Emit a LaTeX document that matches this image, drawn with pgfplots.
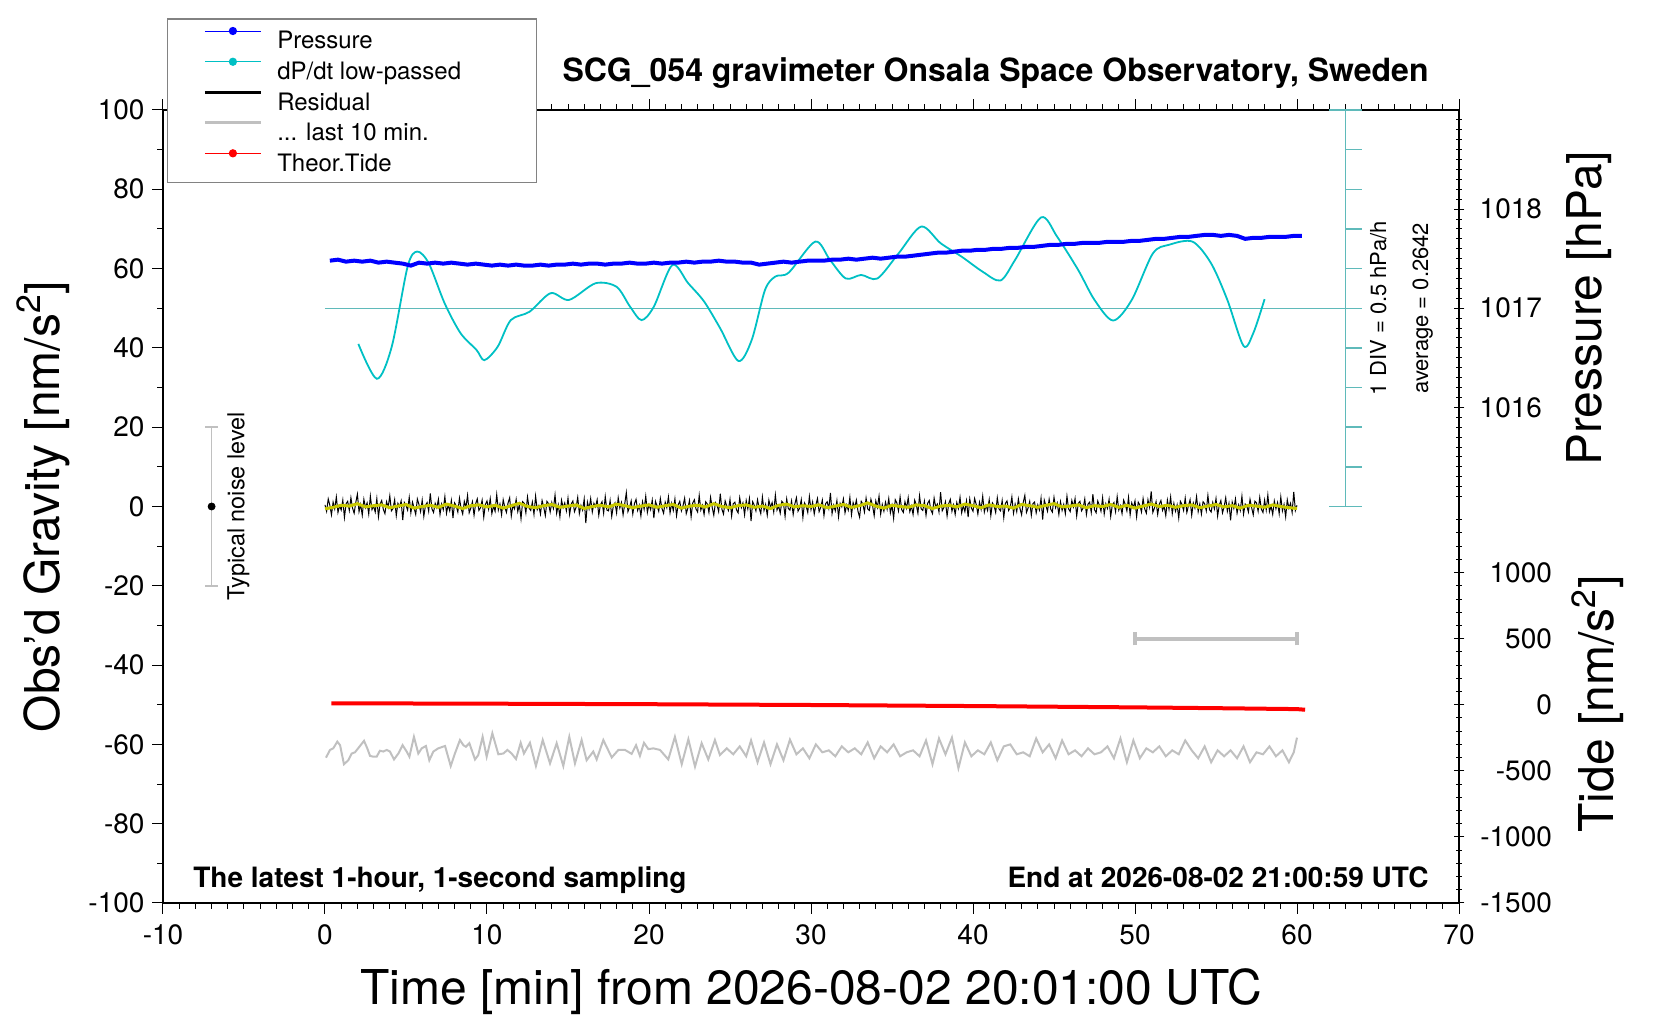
\documentclass[border=0pt]{standalone}
\usepackage{pgfplots}
\pgfplotsset{compat=1.18}
\usepackage{pgfplotstable}
\usepackage{fontspec}
\setmainfont{TeX Gyre Heros}
\definecolor{cyanc}{RGB}{0,192,196}
\definecolor{cyans}{RGB}{95,186,186}
\definecolor{yel}{RGB}{200,200,0}
\definecolor{lgray}{RGB}{192,192,192}
\definecolor{leggray}{RGB}{130,130,130}

\pgfplotsset{
  common/.style={width=648pt, height=396.5pt, scale only axis, xmin=-10, xmax=70,
    tick align=outside, major tick length=5.3pt, minor tick length=2.8pt,
    every tick/.style={black, line width=0.5pt},
    axis line style={line width=0.9pt},
    tick label style={font=\fontsize{14}{16}\selectfont},
    /pgf/number format/assume math mode=true,
    /pgf/number format/1000 sep={},
  },
  legdot/.style={legend image code/.code={\path (-18.5pt,0pt) (35.9pt,0pt);
      \draw[##1,line width=0.5pt] (0pt,4.3pt) -- (28pt,4.3pt);
      \fill[##1] (14pt,4.3pt) circle[radius=1.75pt];}},
  legline/.style={legend image code/.code={\path (-18.5pt,0pt) (35.9pt,0pt);
      \draw[##1, line width=#1] (0pt,4.3pt) -- (28pt,4.3pt);}},
}

\pgfplotstableread[header=false,row sep=\\]{
0.4\\ -1.2\\ 1.9\\ 0.3\\ -2.1\\ 1.1\\ -0.6\\ 2.4\\ -1.5\\ 0.2\\
-0.9\\ 1.6\\ -2.8\\ 0.7\\ 1.3\\ -1.0\\ 2.2\\ -0.4\\ -1.7\\ 1.0\\
3.1\\ -1.3\\ 0.5\\ -2.2\\ 1.8\\ -0.3\\ 0.9\\ -1.9\\ 2.6\\ -0.8\\
0.1\\ -1.4\\ 2.0\\ -2.6\\ 0.6\\ 1.5\\ -0.7\\ -1.8\\ 1.2\\ -0.2\\
2.7\\ -1.1\\ -0.5\\ 1.7\\ -2.3\\ 0.8\\ -0.1\\ 1.4\\ -3.4\\ 1.0\\
0.3\\ -0.9\\ 2.3\\ -1.6\\ 1.1\\ -0.4\\ -2.0\\ 1.9\\ 0.5\\ -1.3\\
1.6\\ -2.5\\ 0.2\\ 1.0\\ -1.2\\ 3.3\\ -0.6\\ -1.5\\ 0.8\\ -0.3\\
1.8\\ -2.0\\ 0.6\\ -0.8\\ 2.5\\ -1.7\\ 0.4\\ -1.1\\ 1.5\\ -2.9\\
0.9\\ 0.2\\ -1.4\\ 2.1\\ -0.5\\ -1.9\\ 1.3\\ -0.2\\ 2.8\\ -1.6\\
-0.4\\ 1.2\\ -2.2\\ 0.7\\ 1.9\\ -1.0\\ -0.3\\ 1.6\\ -2.7\\ 0.5\\
1.4\\ -0.7\\ 2.0\\ -1.8\\ 0.1\\ -1.2\\ 3.0\\ -0.9\\ 0.6\\ -2.1\\
1.7\\ -0.2\\ -1.5\\ 0.9\\ 2.2\\ -2.4\\ 0.3\\ -0.6\\ 1.8\\ -1.3\\
0.5\\ -3.1\\ 1.2\\ 0.8\\ -1.6\\ 2.4\\ -0.4\\ -1.0\\ 1.1\\ -2.0\\
2.6\\ -0.8\\ 0.2\\ -1.9\\ 1.5\\ -0.1\\ -2.3\\ 1.3\\ 0.7\\ -1.4\\
1.0\\ -0.5\\ 2.9\\ -1.7\\ 0.4\\ -2.6\\ 1.6\\ -0.3\\ 0.9\\ -1.1\\
2.1\\ -2.0\\ 0.6\\ 1.4\\ -1.3\\ -0.2\\ 2.3\\ -1.8\\ 0.3\\ -0.9\\
1.9\\ -4.2\\ 1.1\\ -0.6\\ 2.0\\ -1.4\\ 0.8\\ -0.1\\ 1.7\\ -2.2\\
0.4\\ 1.2\\ -1.7\\ 2.5\\ -0.9\\ -1.1\\ 1.5\\ -2.5\\ 0.2\\ 0.9\\
-1.6\\ 2.2\\ -0.4\\ 1.0\\ -2.1\\ 0.6\\ 3.5\\ -1.3\\ -0.2\\ 1.4\\
-1.9\\ 0.7\\ 1.8\\ -1.0\\ 0.3\\ -2.4\\ 1.2\\ -0.7\\ 2.6\\ -1.5\\
0.5\\ -0.8\\ 1.6\\ -2.9\\ 1.3\\ 0.1\\ -1.2\\ 2.0\\ -0.5\\ -1.7\\
1.1\\ -0.3\\ 2.4\\ -1.6\\ 0.8\\ -1.0\\ 1.9\\ -2.3\\ 0.4\\ 1.3\\
-1.1\\ 0.2\\ 2.1\\ -1.8\\ -0.4\\ 1.5\\ -2.6\\ 0.9\\ 1.7\\ -0.6\\
-1.4\\ 2.8\\ -0.9\\ 0.3\\ -2.0\\ 1.2\\ 0.6\\ -1.5\\ 2.3\\ -0.2\\
-2.2\\ 1.0\\ 0.4\\ -1.3\\ 3.2\\ -0.7\\ -1.9\\ 1.4\\ 0.1\\ -1.0\\
1.8\\ -2.4\\ 0.7\\ 1.1\\ -0.8\\ -1.6\\ 2.2\\ -0.3\\ 0.9\\ -2.1\\
1.5\\ -0.6\\ 2.0\\ -3.7\\ 1.2\\ 0.3\\ -1.1\\ 1.7\\ -0.4\\ -1.8\\
2.4\\ -1.0\\ 0.5\\ -2.2\\ 1.6\\ -0.2\\ 1.0\\ -1.4\\ 2.9\\ -0.9\\
0.2\\ -1.7\\ 1.3\\ 0.8\\ -2.5\\ 1.9\\ -0.5\\ -0.9\\ 1.4\\ -2.0\\
0.6\\ 2.2\\ -1.2\\ -0.4\\ 1.7\\ -2.8\\ 0.9\\ 0.1\\ -1.5\\ 2.5\\
-0.8\\ 1.1\\ -1.9\\ 0.4\\ 2.0\\ -1.3\\ -0.2\\ 1.6\\ -2.3\\ 0.7\\
1.2\\ -0.5\\ 3.4\\ -1.8\\ 0.3\\ -1.1\\ 1.5\\ -2.6\\ 0.8\\ -0.1\\
1.9\\ -1.6\\ 0.4\\ -0.9\\ 2.3\\ -2.1\\ 1.0\\ -0.3\\ 1.6\\ -1.2\\
-2.7\\ 1.3\\ 0.6\\ -1.4\\ 2.1\\ -0.6\\ -1.0\\ 1.8\\ 0.2\\ -2.3\\
1.4\\ -0.2\\ 2.6\\ -1.9\\ 0.5\\ -1.2\\ 1.1\\ -0.7\\ 2.0\\ -1.6\\
0.3\\ -3.0\\ 1.7\\ 0.9\\ -1.1\\ 2.4\\ -0.8\\ -1.5\\ 1.2\\ -0.4\\
2.2\\ -1.3\\ 0.1\\ -2.0\\ 1.6\\ 0.4\\ -1.7\\ 2.7\\ -0.6\\ -1.0\\
1.3\\ -2.2\\ 0.8\\ 1.5\\ -0.9\\ -1.8\\ 2.1\\ -0.2\\ 0.6\\ -1.4\\
3.6\\ -1.1\\ -0.3\\ 1.2\\ -2.4\\ 0.7\\ 1.8\\ -1.2\\ 0.4\\ -2.0\\
1.0\\ -0.5\\ 2.3\\ -1.6\\ 0.2\\ -1.3\\ 1.4\\ -2.7\\ 1.9\\ -0.4\\
-1.2\\ 2.0\\ 0.5\\ -1.9\\ 1.1\\ -0.7\\ 2.6\\ -1.4\\ 0.3\\ -1.0\\
1.7\\ -2.3\\ 0.9\\ 0.2\\ -1.5\\ 2.2\\ -0.6\\ -1.1\\ 1.5\\ -2.8\\
0.8\\ 1.4\\ -1.0\\ -0.2\\ 2.4\\ -1.7\\ 0.6\\ -1.3\\ 1.9\\ -0.5\\
-2.1\\ 1.0\\ 2.8\\ -1.5\\ -0.4\\ 1.3\\ -2.2\\ 0.7\\ 1.1\\ -1.6\\
0.4\\ -0.9\\ 2.1\\ -3.3\\ 1.6\\ 0.2\\ -1.2\\ 1.8\\ -0.7\\ -1.4\\
2.3\\ -0.3\\ 0.9\\ -2.0\\ 1.2\\ -1.0\\ 0.5\\ -1.8\\ 2.6\\ -0.6\\
-1.3\\ 1.5\\ -0.1\\ 2.0\\ -2.4\\ 0.8\\ 1.3\\ -1.1\\ -0.4\\ 1.9\\
-2.0\\ 0.6\\ 1.1\\ -1.5\\ 3.1\\ -0.8\\ -1.6\\ 1.4\\ 0.3\\ -1.2\\
2.2\\ -1.9\\ 0.7\\ -0.5\\ 1.8\\ -2.5\\ 0.4\\ 1.0\\ -1.3\\ 2.5\\
-0.9\\ 0.2\\ -1.8\\ 1.6\\ 0.5\\ -1.1\\ 2.3\\ -2.1\\ 0.9\\ -0.3\\
1.4\\ -2.6\\ 1.1\\ 0.3\\ -1.4\\ 2.0\\ -0.6\\ -1.7\\ 1.7\\ -0.2\\
3.8\\ -1.5\\ -0.4\\ 1.2\\ -2.0\\ 0.6\\ 1.5\\ -1.0\\ 0.1\\ -2.3\\
1.6\\ -0.7\\ 2.4\\ -1.8\\ 0.8\\ -1.2\\ 0.4\\ -2.9\\ 1.3\\ 0.5\\
-1.0\\ 2.1\\ -1.5\\ 0.2\\ 1.7\\ -2.2\\ 0.9\\ -0.4\\ 2.5\\ -1.3\\
0.6\\ -1.9\\ 1.2\\ 0.7\\ -1.1\\ 2.8\\ -0.8\\ -1.4\\ 1.0\\ -0.6\\
2.0\\ -2.4\\ 0.3\\ 1.5\\ -1.6\\ -0.1\\ 2.2\\ -1.2\\ 0.8\\ -3.5\\
1.1\\ -0.5\\ 1.9\\ -1.7\\ 0.4\\ -1.0\\ 2.6\\ -1.9\\ 0.6\\ 0.2\\
-1.4\\ 1.8\\ -0.3\\ -2.1\\ 1.3\\ 0.9\\ -1.2\\ 2.3\\ -0.7\\ -1.5\\
1.6\\ -0.9\\ 2.9\\ -1.3\\ 0.1\\ -2.0\\ 1.4\\ -0.6\\ 1.0\\ -1.8\\
2.4\\ -1.1\\ 0.5\\ -2.6\\ 1.7\\ -0.4\\ 0.8\\ -1.5\\ 3.7\\ -1.0\\
0.3\\
}\residual

\pgfplotstableread[header=false,row sep=\\]{
-0.6\\ -0.2\\ 0.3\\ 0.1\\ 0.7\\ -0.1\\ 0.2\\ 0.4\\ -0.3\\ 0.1\\
0.5\\ -0.4\\ 0.0\\ 0.3\\ -0.2\\ 0.6\\ 0.1\\ -0.5\\ 0.2\\ 0.4\\
-0.1\\ 0.3\\ -0.4\\ 0.2\\ 0.8\\ 0.0\\ -0.3\\ 0.2\\ 0.5\\ -0.2\\
0.1\\ 0.4\\ -0.5\\ 0.0\\ 0.3\\ -0.1\\ 0.6\\ 0.2\\ -0.3\\ 0.1\\
0.4\\ -0.2\\ 0.2\\ 0.5\\ -0.4\\ 0.1\\ 0.3\\ -0.1\\ 0.7\\ 0.0\\
-0.3\\ 0.2\\ 0.4\\ -0.2\\ 0.1\\ -0.5\\ 0.3\\ 0.6\\ -0.1\\ 0.2\\
0.0\\ 0.4\\ -0.3\\ 0.1\\ 0.5\\ -0.2\\ 0.2\\ 0.9\\ 0.1\\ -0.4\\
0.3\\ 0.0\\ -0.2\\ 0.4\\ 0.2\\ -0.5\\ 0.1\\ 0.3\\ -0.1\\ 0.6\\
0.2\\ -0.3\\ 0.4\\ 0.0\\ 0.1\\ -0.4\\ 0.5\\ 0.2\\ -0.2\\ 0.3\\
0.7\\ -0.1\\ 0.1\\ 0.4\\ -0.3\\ 0.2\\ 0.0\\ 0.5\\ -0.2\\ 0.3\\
-0.4\\ 0.1\\ 0.6\\ 0.0\\ 0.3\\ -0.2\\ 0.2\\ 0.4\\ -0.3\\ 0.1\\
0.5\\ -0.1\\ 0.2\\ -0.4\\ 0.3\\ 0.1\\ -0.2\\ 0.4\\ 0.0\\ -0.3\\
-0.5\\
}\smoothres

\pgfplotstableread[header=false,row sep=\\]{
1017.48\\ 1017.49\\ 1017.47\\ 1017.48\\ 1017.47\\ 1017.48\\ 1017.46\\ 1017.47\\ 1017.46\\ 1017.45\\
1017.43\\ 1017.46\\ 1017.45\\ 1017.46\\ 1017.45\\ 1017.46\\ 1017.45\\ 1017.44\\ 1017.45\\ 1017.44\\
1017.43\\ 1017.44\\ 1017.43\\ 1017.44\\ 1017.43\\ 1017.43\\ 1017.44\\ 1017.43\\ 1017.44\\ 1017.44\\
1017.45\\ 1017.44\\ 1017.45\\ 1017.45\\ 1017.44\\ 1017.45\\ 1017.45\\ 1017.46\\ 1017.45\\ 1017.45\\
1017.46\\ 1017.45\\ 1017.46\\ 1017.46\\ 1017.47\\ 1017.46\\ 1017.47\\ 1017.47\\ 1017.48\\ 1017.47\\
1017.47\\ 1017.46\\ 1017.46\\ 1017.44\\ 1017.45\\ 1017.46\\ 1017.47\\ 1017.46\\ 1017.47\\ 1017.48\\
1017.48\\ 1017.48\\ 1017.49\\ 1017.49\\ 1017.50\\ 1017.49\\ 1017.50\\ 1017.51\\ 1017.50\\ 1017.51\\
1017.52\\ 1017.52\\ 1017.53\\ 1017.54\\ 1017.55\\ 1017.56\\ 1017.56\\ 1017.57\\ 1017.58\\ 1017.58\\
1017.59\\ 1017.59\\ 1017.60\\ 1017.60\\ 1017.61\\ 1017.61\\ 1017.62\\ 1017.62\\ 1017.63\\ 1017.64\\
1017.64\\ 1017.65\\ 1017.65\\ 1017.66\\ 1017.66\\ 1017.66\\ 1017.67\\ 1017.67\\ 1017.67\\ 1017.68\\
1017.68\\ 1017.69\\ 1017.70\\ 1017.70\\ 1017.71\\ 1017.72\\ 1017.72\\ 1017.73\\ 1017.74\\ 1017.74\\
1017.73\\ 1017.74\\ 1017.73\\ 1017.70\\ 1017.71\\ 1017.71\\ 1017.72\\ 1017.72\\ 1017.72\\ 1017.73\\
1017.73\\
}\pressure

\begin{document}
\begin{tikzpicture}
\path[use as bounding box] (-81.5pt,-58.5pt) rectangle (748.5pt,451.5pt);

% ---------------- main gravity axis ----------------
\begin{axis}[common, ymin=-100, ymax=100,
  xtick={-10,0,...,70}, minor x tick num=9,
  ytick={-100,-80,...,100}, minor y tick num=1,
  xtick pos=both, xticklabel pos=lower, ytick pos=left,
  clip=false, unbounded coords=jump,
  xticklabel style={inner sep=0pt, anchor=north, yshift=-5.3pt},
  yticklabel style={inner sep=0pt, anchor=east, xshift=-3.75pt},
  every axis x label/.style={at={(axis description cs:0.5,-0.1286)}, anchor=base, font=\fontsize{24}{28}\selectfont},
  every axis y label/.style={at={(axis description cs:-0.0802,0.5)}, rotate=90, anchor=base, font=\fontsize{24}{28}\selectfont},
  xlabel={Time [min] from 2026-08-02 20:01:00 UTC},
  ylabel={Obs’d Gravity [nm/s\textsuperscript{2}]},
  legend style={at={(axis description cs:0.00285,1.1156)}, anchor=north west,
    draw=leggray, line width=0.6pt, fill=white, inner xsep=0pt, inner ysep=4pt,
    row sep=2.85pt, font=\fontsize{12}{14}\selectfont,
    nodes={inner sep=0pt, text height=10.8pt, text depth=1.55pt},
    cells={anchor=west}},
  legend cell align=left,
]
\addlegendimage{legdot, blue}
\addlegendentry{\makebox[129.5pt][l]{Pressure}}
\addlegendimage{legdot, cyanc}
\addlegendentry{\makebox[129.5pt][l]{dP/dt low-passed}}
\addlegendimage{legline=1.4pt, black}
\addlegendentry{\makebox[129.5pt][l]{Residual}}
\addlegendimage{legline=1.6pt, lgray}
\addlegendentry{\makebox[129.5pt][l]{... last 10 min.}}
\addlegendimage{legdot, red}
\addlegendentry{\makebox[129.5pt][l]{Theor.Tide}}

% dP/dt scale
\addplot[cyans, line width=0.7pt, forget plot] coordinates {
 (0,50) (64,50) (nan,nan)
 (63,0) (63,100) (nan,nan)
 (62,100) (64,100) (nan,nan) (62,0) (64,0) (nan,nan)
 (63,10) (64,10) (nan,nan) (63,20) (64,20) (nan,nan) (63,30) (64,30) (nan,nan)
 (63,40) (64,40) (nan,nan) (63,60) (64,60) (nan,nan) (63,70) (64,70) (nan,nan)
 (63,80) (64,80) (nan,nan) (63,90) (64,90)
};

% dP/dt low-passed
\addplot[cyanc, line width=0.9pt, smooth, tension=0.5, forget plot] coordinates {
(2.06,41.0)(3.2,32.2)(4.12,40.3)(5.1,60.5)(5.69,64.3)(6.41,61.3)(7.39,51.2)(8.37,43.7)
(9.35,39.5)(9.84,36.9)(10.66,40.3)(11.47,47.0)(12.62,49.1)(13.93,53.8)(15.07,52.1)
(16.7,56.3)(18.0,55.4)(18.83,50.4)(19.54,47.0)(20.3,50.4)(21.44,60.9)(22.42,56.3)
(23.4,51.7)(24.4,44.9)(25.52,36.7)(26.34,42.0)(27.16,54.6)(27.8,58.0)(28.63,59.0)
(30.26,66.8)(31.17,62.2)(32.15,57.5)(33.1,58.4)(34.1,57.5)(35.4,63.8)(36.8,70.6)
(38.0,66.4)(39.3,63.0)(40.6,59.2)(41.7,57.0)(42.6,62.2)(44.2,72.9)(45.2,68.0)
(46.5,59.6)(47.5,52.1)(48.65,46.9)(49.8,52.1)(51.1,63.8)(52.1,66.0)(53.55,66.8)
(54.7,61.3)(55.7,52.1)(56.7,40.5)(57.3,43.7)(58.0,52.3)
};

% residual
\addplot[black, line width=0.5pt, forget plot] table[x expr=\coordindex*0.1, y index=0] {\residual};
\addplot[yel, line width=1.5pt, forget plot] table[x expr=\coordindex*0.5, y index=0] {\smoothres};

% last 10 min
\addplot[lgray, line width=1pt, forget plot] coordinates {
(0.06,-63.35)(0.31,-61.4)(0.51,-61.0)(0.76,-59.3)(0.93,-60.2)(1.17,-65.0)(1.44,-64.0)
(1.65,-62.3)(1.85,-62.0)(2.16,-60.4)(2.41,-59.1)(2.61,-61.0)(2.78,-62.9)(2.98,-63.1)
(3.19,-63.1)(3.39,-61.6)(3.6,-61.8)(3.81,-61.4)(4.01,-61.8)(4.26,-63.8)(4.53,-62.3)
(4.79,-60.2)(5.04,-61.8)(5.21,-63.1)(5.49,-58.1)(5.76,-62.3)(5.97,-61.0)(6.23,-60.4)
(6.44,-64.0)(6.69,-61.8)(6.99,-61.0)(7.41,-60.4)(7.76,-65.45)(8.02,-62.3)(8.33,-58.9)
(8.54,-60.2)(8.7,-60.6)(8.91,-59.7)(9.26,-63.8)(9.46,-62.7)(9.73,-58.1)(9.98,-63.1)
(10.33,-57.2)(10.7,-62.5)(11.01,-62.3)(11.26,-61.4)(11.52,-62.3)(11.79,-63.7)(12.08,-59.6)
(12.28,-62.3)(12.65,-59.6)(13.02,-65.45)(13.44,-58.9)(13.89,-64.8)(14.3,-59.7)(14.71,-65.45)
(15.08,-58.1)(15.43,-64.8)(15.84,-58.9)(16.15,-64.0)(16.56,-61.8)(16.77,-63.8)(17.18,-58.9)
(17.7,-63.3)(18.11,-61.4)(18.52,-61.4)(18.93,-62.4)(19.2,-60.2)(19.44,-62.9)(19.69,-59.6)
(19.96,-61.2)(20.27,-61.0)(20.68,-61.4)(21.19,-63.8)(21.6,-58.1)(22.02,-65.0)(22.43,-58.7)
(22.84,-65.6)(23.25,-59.7)(23.66,-63.8)(24.07,-58.9)(24.38,-62.7)
(24.8,-61.0)(25.2,-62.5)(25.6,-60.5)(26.0,-63.0)(26.3,-59.0)(26.7,-64.5)(27.1,-59.5)
(27.5,-65.0)(27.9,-60.0)(28.3,-64.0)(28.7,-58.8)(29.1,-62.5)(29.5,-61.0)(29.9,-63.5)
(30.3,-60.0)(30.7,-62.0)(31.1,-61.5)(31.5,-63.0)(31.9,-60.5)(32.3,-62.0)(32.7,-61.0)
(33.1,-62.5)(33.5,-59.5)(33.9,-63.5)(34.3,-60.5)(34.7,-62.0)(35.1,-60.0)(35.5,-63.0)
(35.9,-62.0)(36.3,-61.5)(36.7,-63.0)(37.1,-59.0)(37.5,-65.0)(37.9,-58.5)(38.3,-62.5)
(38.7,-58.3)(39.1,-66.0)(39.5,-59.5)(39.9,-63.0)(40.3,-61.5)(40.7,-62.5)(41.1,-59.5)
(41.5,-64.0)(41.9,-60.5)(42.3,-60.0)(42.7,-62.5)(43.1,-62.0)(43.5,-63.0)(43.9,-58.5)
(44.3,-62.0)(44.7,-60.0)(45.1,-63.5)(45.5,-59.0)(45.9,-62.5)(46.3,-61.5)(46.7,-63.0)
(47.1,-61.0)(47.5,-62.5)(47.9,-62.0)(48.3,-60.5)(48.7,-63.5)(49.1,-58.5)(49.5,-64.5)
(49.9,-59.0)(50.3,-63.5)(50.7,-61.0)(51.1,-62.0)(51.5,-60.5)(51.9,-63.0)(52.3,-61.5)
(52.7,-62.5)(53.1,-59.0)(53.5,-61.5)(53.9,-63.5)(54.3,-60.5)(54.7,-64.5)(55.1,-61.5)
(55.5,-63.0)(55.9,-61.5)(56.3,-63.5)(56.7,-60.5)(57.1,-64.5)(57.5,-62.0)(57.9,-62.5)
(58.3,-60.5)(58.7,-63.0)(59.1,-61.5)(59.5,-64.5)(59.8,-62.0)(60.0,-58.3)
};

% typical noise level
\addplot[lgray, line width=0.8pt, forget plot] coordinates {
 (-7,-20) (-7,20) (nan,nan) (-7.38,20) (-6.62,20) (nan,nan) (-7.38,-20) (-6.62,-20)};
\addplot[only marks, mark=*, mark size=1.75pt, black, forget plot] coordinates {(-7,0)};

\node[rotate=90, anchor=base, font=\fontsize{11.7}{14}\selectfont] at (axis cs:-4.98,0) {Typical noise level};
\node[rotate=90, anchor=base, font=\fontsize{11}{13}\selectfont] at (axis cs:65.5,50) {1 DIV = 0.5 hPa/h};
\node[rotate=90, anchor=base, font=\fontsize{11}{13}\selectfont] at (axis cs:68.09,50) {average = 0.2642};

\node[anchor=base, font=\bfseries\fontsize{16}{19}\selectfont] at (axis description cs:0.6424,1.0353) {SCG\_054 gravimeter Onsala Space Observatory, Sweden};
\node[anchor=base west, inner sep=0pt, font=\bfseries\fontsize{14}{17}\selectfont] at (axis description cs:0.0231,0.0189) {The latest 1-hour, 1-second sampling};
\node[anchor=base east, inner sep=0pt, font=\bfseries\fontsize{14}{17}\selectfont] at (axis description cs:0.9769,0.0189) {End at 2026-08-02 21:00:59 UTC};
\end{axis}

% ---------------- pressure axis ----------------
\begin{axis}[common, ymin=1011, ymax=1019,
  axis x line=none, axis y line=right, y axis line style={-},
  ytick={1016,1017,1018},
  minor ytick={1015.1,1015.2,1015.3,1015.4,1015.5,1015.6,1015.7,1015.8,1015.9,
    1016.1,1016.2,1016.3,1016.4,1016.5,1016.6,1016.7,1016.8,1016.9,
    1017.1,1017.2,1017.3,1017.4,1017.5,1017.6,1017.7,1017.8,1017.9,
    1018.1,1018.2,1018.3,1018.4,1018.5,1018.6,1018.7,1018.8,1018.9},
  yticklabel style={inner sep=0pt, anchor=west, xshift=7.5pt},
  every axis y label/.style={at={(axis description cs:1.1103,0.75)}, rotate=90, anchor=base, font=\fontsize{24}{28}\selectfont},
  ylabel={Pressure [hPa]},
]
\addplot[blue, line width=2pt, forget plot] table[x expr=0.3+\coordindex*0.5, y index=0] {\pressure};
\end{axis}

% ---------------- tide axis ----------------
\begin{axis}[common, ymin=-1500, ymax=4500,
  axis x line=none, axis y line=right, y axis line style={-},
  ytick={-1500,-1000,...,1000},
  minor ytick={-1400,-1300,...,1400},
  unbounded coords=jump,
  yticklabel style={inner sep=0pt, anchor=east, xshift=44pt},
  every axis y label/.style={at={(axis description cs:1.1192,0.251)}, rotate=90, anchor=base, font=\fontsize{24}{28}\selectfont},
  ylabel={Tide [nm/s\textsuperscript{2}]},
]
\addplot[red, line width=2pt, forget plot] coordinates {
(0.4,10)(5,9.5)(10,8)(15,6)(20,4)(25,1)(30,-2)(35,-6)(40,-10)(45,-15)(50,-20)(55,-26)(60,-33)(60.5,-38)};
\addplot[lgray, line width=2pt, forget plot] coordinates {
 (50,500) (60,500) (nan,nan) (50,449) (50,551) (nan,nan) (60,449) (60,551)};
\end{axis}
\end{tikzpicture}
\end{document}
